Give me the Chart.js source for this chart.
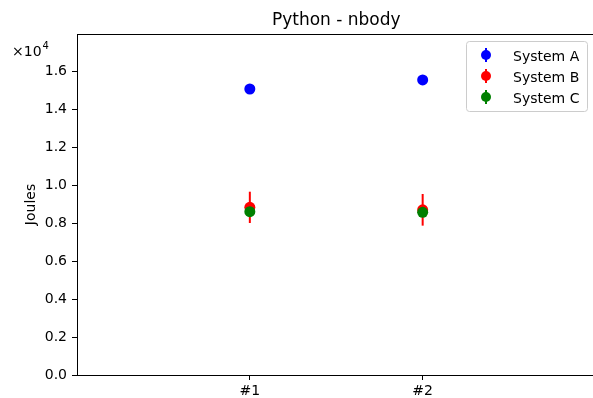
<!DOCTYPE html>
<html>
<head>
<meta charset="utf-8">
<script src="https://cdn.jsdelivr.net/npm/chart.js@4.4.0/dist/chart.umd.min.js"></script>
<style>
    body { margin: 0; overflow: hidden; background: #fff; }
    #wrap { width: 593px; height: 398px; overflow: hidden; }
</style>
</head>
<body>
<div id="wrap"><canvas id="myChart" width="601" height="398"></canvas></div>
<script>
const chart_title = 'Python - nbody';
const y_label = 'Joules';
const categories = ['#1', '#2'];
const series_names = ['System A', 'System B', 'System C'];
const series_colors = ['#0000ff', '#ff0000', '#008000'];
const system_a = [15080, 15560];
const system_a_err = [80, 80];
const system_b = [8840, 8710];
const system_b_err = [825, 835];
const system_c = [8610, 8580];
const system_c_err = [120, 120];
const y_ticks = [0, 2000, 4000, 6000, 8000, 10000, 12000, 14000, 16000];
const y_max = 17980;
const offset_base = '\u00d710';
const offset_exp = '4';

const font = { family: 'DejaVu Sans', size: 14, weight: 'normal' };

function make_dataset(i, values, errors) {
    return {
        label: series_names[i],
        data: values.map((v, j) => ({ x: j + 1, y: v })),
        errors: errors,
        backgroundColor: series_colors[i],
        borderColor: series_colors[i],
        pointRadius: 5.5,
        pointBorderWidth: 0,
        showLine: false,
        order: 3 - i
    };
}

// error bars go under each series' own markers
const errorbars = {
    id: 'errorbars',
    beforeDatasetDraw(chart, args) {
        const ds = chart.data.datasets[args.index];
        const y = chart.scales.y;
        const ctx = chart.ctx;
        ctx.save();
        ctx.strokeStyle = ds.borderColor;
        ctx.lineWidth = 2;
        args.meta.data.forEach((pt, i) => {
            const v = ds.data[i].y;
            const e = ds.errors[i];
            ctx.beginPath();
            ctx.moveTo(pt.x, y.getPixelForValue(v - e));
            ctx.lineTo(pt.x, y.getPixelForValue(v + e));
            ctx.stroke();
        });
        ctx.restore();
    }
};

const frame = {
    id: 'frame',
    beforeDatasetsDraw(chart) {
        const a = chart.chartArea;
        const ctx = chart.ctx;
        ctx.save();
        ctx.strokeStyle = '#000';
        ctx.lineWidth = 1;
        const l = Math.floor(a.left) + 0.5, t = Math.floor(a.top) + 0.5;
        const r = Math.floor(a.right) + 0.5, b = Math.floor(a.bottom) + 0.5;
        ctx.strokeRect(l, t, r - l, b - t);
        ctx.restore();
    }
};

const legend_box = {
    id: 'legend_box',
    afterDraw(chart) {
        const ctx = chart.ctx;
        const a = chart.chartArea;
        const w = 121, h = 70;
        const x0 = 466, y0 = Math.floor(a.top) + 7;
        ctx.save();
        ctx.fillStyle = 'rgba(255,255,255,0.8)';
        ctx.strokeStyle = '#cccccc';
        ctx.lineWidth = 1;
        ctx.beginPath();
        ctx.roundRect(x0 + 0.5, y0 + 0.5, w, h, 3);
        ctx.fill();
        ctx.stroke();
        chart.data.datasets.forEach((ds, i) => {
            const cx = x0 + 20;
            const cy = y0 + 14 + i * 21;
            ctx.strokeStyle = ds.borderColor;
            ctx.lineWidth = 2;
            ctx.beginPath();
            ctx.moveTo(cx, cy - 7);
            ctx.lineTo(cx, cy + 7);
            ctx.stroke();
            ctx.fillStyle = ds.backgroundColor;
            ctx.beginPath();
            ctx.arc(cx, cy, 5, 0, Math.PI * 2);
            ctx.fill();
            ctx.fillStyle = '#000';
            ctx.font = '14px "DejaVu Sans"';
            ctx.textBaseline = 'alphabetic';
            ctx.fillText(ds.label, x0 + 47, cy + 5.5);
        });
        ctx.restore();
    }
};

const offset_text = {
    id: 'offset_text',
    afterDraw(chart) {
        const ctx = chart.ctx;
        ctx.save();
        ctx.fillStyle = '#000';
        ctx.font = '14px "DejaVu Sans"';
        ctx.fillText(offset_base, 12, 56);
        const w = ctx.measureText(offset_base).width;
        ctx.font = '10px "DejaVu Sans"';
        ctx.fillText(offset_exp, 12 + w + 1, 49);
        ctx.restore();
    }
};

document.addEventListener('DOMContentLoaded', () => {
    const ctx = document.getElementById('myChart');
    new Chart(ctx, {
        type: 'scatter',
        data: {
            datasets: [
                make_dataset(0, system_a, system_a_err),
                make_dataset(1, system_b, system_b_err),
                make_dataset(2, system_c, system_c_err)
            ]
        },
        options: {
            responsive: false,
            animation: false,
            layout: { padding: { left: 0, right: 2, top: 0, bottom: 0 } },
            plugins: {
                legend: { display: false },
                tooltip: { enabled: false },
                title: {
                    display: true,
                    text: chart_title,
                    fullSize: false,
                    color: '#000',
                    font: { family: 'DejaVu Sans', size: 17, weight: 'normal' },
                    padding: { top: 10, bottom: 3.6 }
                }
            },
            scales: {
                x: {
                    type: 'linear',
                    min: 0,
                    max: 3,
                    afterBuildTicks: s => { s.ticks = categories.map((c, i) => ({ value: i + 1 })); },
                    afterFit: s => { s.height = 23; },
                    ticks: {
                        callback: v => categories[v - 1],
                        color: '#000',
                        font: font,
                        padding: 3,
                        maxRotation: 0,
                        autoSkip: false
                    },
                    grid: { drawOnChartArea: false, drawTicks: true, tickLength: 5, color: '#000' },
                    border: { display: false }
                },
                y: {
                    min: 0,
                    max: y_max,
                    afterBuildTicks: s => { s.ticks = y_ticks.map(v => ({ value: v })); },
                    afterFit: s => { s.width = 77; },
                    ticks: {
                        callback: v => (v / 10000).toFixed(1),
                        color: '#000',
                        font: font,
                        padding: 5
                    },
                    grid: { drawOnChartArea: false, drawTicks: true, tickLength: 5, color: '#000' },
                    border: { display: false },
                    title: {
                        display: true,
                        text: y_label,
                        color: '#000',
                        font: font,
                        padding: { top: 23, bottom: 0 }
                    }
                }
            }
        },
        plugins: [errorbars, frame, legend_box, offset_text]
    });
});
</script>
</body>
</html>
